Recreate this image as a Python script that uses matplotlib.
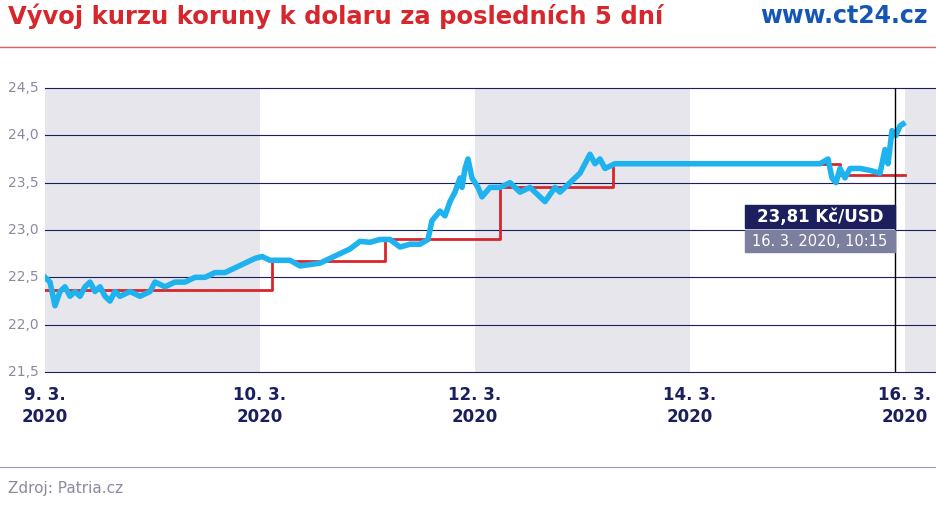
import matplotlib

matplotlib.use("Agg")
import matplotlib.pyplot as plt
from matplotlib.patches import Rectangle

# x in "label intervals": 0 = 9. 3., 1 = 10. 3., 2 = 12. 3., 3 = 14. 3., 4 = 16. 3.
tick_labels = ["9. 3.\n2020", "10. 3.\n2020", "12. 3.\n2020", "14. 3.\n2020", "16. 3.\n2020"]

blue_px = [45, 50, 55, 60, 65, 70, 75, 80, 85, 90, 95, 100, 105, 110, 115, 120, 130, 140, 150, 155,
           165, 175, 185, 195, 205, 215, 225, 235, 245, 255, 262, 270, 290, 300, 320, 330, 340, 350,
           360, 370, 380, 390, 400, 410, 420, 428, 432, 440, 445, 450, 455, 460, 462, 465, 468, 472,
           478, 482, 490, 500, 510, 520, 530, 540, 545, 555, 560, 570, 580, 585, 590, 595, 600, 605,
           615, 700, 820, 828, 832, 836, 840, 845, 850, 860, 870, 880, 885, 888, 892, 896, 900, 903]
blue_val = [22.5, 22.45, 22.2, 22.35, 22.4, 22.3, 22.35, 22.3, 22.4, 22.45, 22.35, 22.4, 22.3, 22.25,
            22.35, 22.3, 22.35, 22.3, 22.35, 22.45, 22.4, 22.45, 22.45, 22.5, 22.5, 22.55, 22.55, 22.6,
            22.65, 22.7, 22.72, 22.68, 22.68, 22.62, 22.65, 22.7, 22.75, 22.8, 22.88, 22.87, 22.9, 22.9,
            22.82, 22.85, 22.85, 22.9, 23.1, 23.2, 23.15, 23.3, 23.4, 23.55, 23.45, 23.65, 23.75, 23.55,
            23.45, 23.35, 23.45, 23.45, 23.5, 23.4, 23.45, 23.35, 23.3, 23.45, 23.4, 23.5, 23.6, 23.7,
            23.8, 23.7, 23.75, 23.65, 23.7, 23.7, 23.7, 23.75, 23.55, 23.5, 23.65, 23.55, 23.65, 23.65,
            23.63, 23.6, 23.85, 23.7, 24.05, 24.0, 24.1, 24.12]
blue_x = [(p - 45) / 215 for p in blue_px]

red_px = [45, 272, 385, 500, 613, 840, 905]
red_val = [22.37, 22.67, 22.9, 23.45, 23.7, 23.58, 23.58]
red_x = [(p - 45) / 215 for p in red_px]

y_ticks = [21.5, 22.0, 22.5, 23.0, 23.5, 24.0, 24.5]

navy = "#1b1f5e"
fig = plt.figure(figsize=(9.36, 5.26), dpi=100)
ax = fig.add_axes([45 / 936, 1 - 372 / 526, 891 / 936, 284 / 526])
ax.set_xlim(0, 891 / 215)
ax.set_ylim(21.5, 24.5)

for start in [0, 2, 4]:
    ax.axvspan(start, start + 1, color="#e6e6ec", zorder=0, lw=0)
for v in y_ticks:
    ax.axhline(v, color=navy, lw=0.8, zorder=1, clip_on=False)

ax.step(red_x, red_val, where="post", color="#d7262c", lw=2, zorder=3)
ax.plot(blue_x, blue_val, color="#1eb3ee", lw=4, solid_joinstyle="round", zorder=4)
ax.axvline((895 - 45) / 215, color="black", lw=1, zorder=5)

for s in ax.spines.values():
    s.set_visible(False)
ax.set_yticks(y_ticks)
ax.set_yticklabels([])
for v in y_ticks:
    fig.text(8 / 936, 1 - (88 + (24.5 - v) * 94.67) / 526, f"{v:.1f}".replace(".", ","),
             fontsize=10, color="#8a8aa0", ha="left", va="center")
ax.tick_params(length=0)
ax.set_xticks([0, 1, 2, 3, 4])
ax.set_xticklabels(tick_labels, fontsize=12, fontweight="bold", color=navy, linespacing=1.3)
ax.tick_params(axis="x", pad=10)

# annotation boxes
fig.patches.append(Rectangle((745 / 936, 1 - 228 / 526), 150 / 936, 23 / 526,
                             transform=fig.transFigure, color=navy))
fig.patches.append(Rectangle((745 / 936, 1 - 252 / 526), 150 / 936, 22 / 526,
                             transform=fig.transFigure, color="#7c7f9e"))
fig.text(820 / 936, 1 - 217 / 526, "23,81 Kč/USD", color="white", fontsize=12, fontweight="bold",
         ha="center", va="center")
fig.text(820 / 936, 1 - 241 / 526, "16. 3. 2020, 10:15", color="white", fontsize=10.5,
         ha="center", va="center")

fig.text(8 / 936, 1 - 16 / 526, "Vývoj kurzu koruny k dolaru za posledních 5 dní", color="#d7262c",
         fontsize=17.5, fontweight="bold", ha="left", va="center")
fig.text(928 / 936, 1 - 16 / 526, "www.ct24.cz", color="#1455b5", fontsize=17, fontweight="bold",
         ha="right", va="center")
fig.add_artist(plt.Line2D([0, 1], [1 - 47 / 526] * 2, color="#e06060", lw=1))
fig.add_artist(plt.Line2D([0, 1], [1 - 467 / 526] * 2, color="#9a9ab0", lw=0.8))
fig.text(8 / 936, 1 - 488 / 526, "Zdroj: Patria.cz", color="#8a8aa0", fontsize=11, ha="left", va="center")

fig.savefig("out.png", dpi=100)
